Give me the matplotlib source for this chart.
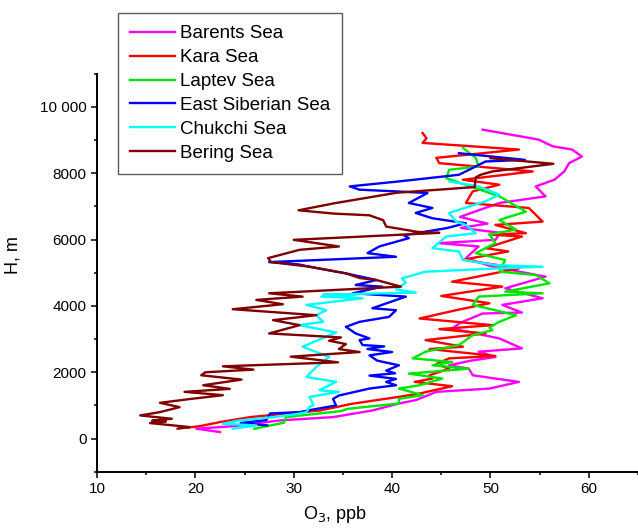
import matplotlib
matplotlib.use("Agg")
import matplotlib.pyplot as plt
from matplotlib.ticker import MultipleLocator, FuncFormatter

plt.rcParams['font.family'] = ['Liberation Sans', 'DejaVu Sans']

# ozone (ppb) vs height (m)
barents_x = [22.5, 20.1, 24.0, 28.6, 34.0, 38.0, 40.7, 42.4, 44.5, 49.9, 52.9, 48.2, 47.8, 45.8, 48.0, 50.5,
             48.8, 53.2, 50.9, 46.1, 47.0, 49.2, 53.2, 51.2, 55.3, 51.5, 55.6, 53.5, 50.0, 47.5, 48.8, 44.8,
             50.5, 51.0, 47.0, 49.7, 46.9, 50.9, 55.6, 54.6, 56.5, 57.5, 58.0, 59.3, 58.3, 56.3, 54.9, 49.2]
barents_y = [200, 300, 380, 550, 650, 850, 1060, 1160, 1410, 1510, 1710, 1910, 2110, 2210, 2350, 2460,
             2620, 2720, 3020, 3320, 3500, 3770, 3800, 4030, 4230, 4530, 4880, 5000, 5200, 5440, 5790, 5890,
             5990, 6200, 6350, 6480, 6680, 7100, 7300, 7600, 7800, 8050, 8300, 8500, 8710, 8810, 9010, 9310]

kara_x = [19.2, 20.5, 22.5, 25.6, 30.0, 32.7, 35.9, 40.7, 42.8, 46.1, 42.3, 44.1, 43.8, 45.8, 44.5, 45.8,
          50.5, 43.8, 47.2, 43.4, 49.5, 44.8, 50.2, 42.8, 46.5, 49.9, 45.0, 51.2, 46.1, 52.9, 47.2, 51.8,
          49.5, 53.2, 49.9, 53.6, 50.5, 55.3, 53.9, 47.5, 48.2, 50.9, 47.2, 54.3, 44.8, 44.5, 52.9, 43.1,
          43.5, 43.1]
kara_y = [330, 380, 500, 650, 780, 850, 1050, 1260, 1360, 1580, 1710, 1810, 1910, 2110, 2250, 2420,
          2490, 2700, 2770, 2970, 3170, 3300, 3420, 3620, 3870, 4080, 4300, 4580, 4730, 5130, 5390, 5640,
          5740, 6090, 6150, 6190, 6440, 6540, 6950, 7100, 7450, 7650, 7800, 8050, 8300, 8460, 8710, 8910,
          9050, 9210]

laptev_x = [26.0, 29.0, 29.2, 34.8, 35.5, 40.7, 40.7, 43.1, 40.7, 42.8, 45.1, 41.7, 45.8, 47.8, 44.1, 46.1,
            42.1, 43.4, 46.8, 48.2, 50.2, 49.9, 50.9, 52.6, 48.2, 48.8, 55.3, 51.5, 56.0, 54.6, 50.9, 51.5,
            48.5, 50.5, 49.9, 52.6, 50.9, 53.6, 50.9, 45.5, 45.8, 48.8, 48.5, 47.2]
laptev_y = [300, 480, 650, 830, 900, 1060, 1200, 1310, 1510, 1610, 1810, 1960, 2060, 2110, 2210, 2310,
            2420, 2620, 2820, 3120, 3270, 3350, 3520, 3720, 4030, 4280, 4380, 4430, 4680, 4930, 5030, 5380,
            5590, 5890, 6150, 6300, 6590, 6840, 7300, 7850, 8100, 8200, 8460, 8760]

east_x = [27.3, 24.6, 27.2, 27.6, 30.6, 32.0, 34.3, 34.0, 34.6, 37.7, 40.4, 39.4, 40.4, 37.7, 40.3, 39.4,
          40.7, 38.5, 37.7, 40.0, 37.5, 39.2, 37.0, 36.7, 37.7, 36.3, 35.3, 36.7, 39.7, 40.4, 38.0, 41.4,
          36.0, 39.0, 36.3, 38.4, 35.3, 31.6, 30.5, 27.5, 40.4, 37.5, 38.7, 41.7, 41.2, 45.5, 47.5, 44.1,
          42.4, 44.1, 41.7, 43.6, 40.4, 36.7, 35.7, 40.7, 46.8, 48.5, 49.5, 53.5, 46.8]
east_y = [400, 470, 560, 760, 800, 880, 1000, 1200, 1300, 1510, 1610, 1710, 1800, 1900, 1970, 2050,
          2210, 2350, 2510, 2610, 2700, 2780, 2820, 2970, 3020, 3170, 3370, 3520, 3670, 3870, 3930, 4280,
          4380, 4580, 4630, 4780, 4980, 5180, 5250, 5320, 5480, 5590, 5790, 6040, 6130, 6340, 6490, 6640,
          6800, 6950, 7100, 7400, 7450, 7500, 7600, 7750, 7950, 8200, 8350, 8400, 8600]

chukchi_x = [23.8, 26.2, 22.8, 24.5, 28.0, 30.5, 31.3, 31.6, 32.0, 31.6, 34.6, 32.6, 34.3, 31.3, 32.3, 33.6,
             30.9, 34.3, 30.6, 33.0, 32.3, 33.3, 31.3, 37.0, 32.8, 36.3, 33.0, 42.4, 40.4, 41.4, 41.0, 43.4,
             50.0, 55.3, 50.5, 47.2, 46.8, 44.1, 45.5, 48.5, 47.5, 46.5, 45.8, 49.5, 50.9, 48.8, 45.8]
chukchi_y = [300, 400, 450, 550, 650, 750, 800, 955, 1005, 1260, 1410, 1460, 1710, 1860, 2160, 2460,
             2770, 3200, 3420, 3520, 3720, 3870, 4030, 4230, 4280, 4330, 4340, 4400, 4500, 4700, 4830, 5030,
             5120, 5180, 5230, 5390, 5640, 5740, 6090, 6190, 6440, 6540, 6800, 7150, 7350, 7600, 7750]

bering_x = [18.2, 19.4, 15.4, 17.0, 15.6, 17.6, 14.4, 16.4, 18.4, 16.4, 19.6, 22.8, 18.9, 23.5, 20.8, 24.7,
            20.6, 21.0, 25.9, 22.8, 34.5, 29.7, 36.7, 34.6, 35.3, 33.6, 34.8, 27.5, 30.6, 27.9, 32.3, 23.8,
            28.9, 26.2, 30.9, 27.5, 40.9, 38.4, 36.7, 35.3, 31.6, 27.7, 27.4, 30.6, 34.6, 30.0, 44.8, 42.6,
            39.4, 39.1, 37.7, 34.1, 30.5, 34.1, 40.5, 48.4, 48.5, 49.0, 50.2, 56.4, 50.0]
bering_y = [300, 350, 470, 520, 540, 600, 700, 800, 950, 1080, 1200, 1310, 1410, 1500, 1610, 1780,
            1910, 2000, 2080, 2180, 2300, 2470, 2610, 2700, 2850, 2950, 3050, 3170, 3420, 3570, 3720, 3900,
            4050, 4180, 4280, 4380, 4580, 4780, 4840, 4980, 5180, 5320, 5440, 5690, 5790, 5990, 6200, 6230,
            6390, 6580, 6730, 6780, 6880, 7090, 7410, 7580, 7870, 7950, 8050, 8280, 8450]

names = ["Barents Sea", "Kara Sea", "Laptev Sea", "East Siberian Sea", "Chukchi Sea", "Bering Sea"]
colors = ["#ff00ff", "#ff0000", "#00e600", "#0000ff", "#00ffff", "#800000"]
xs = [barents_x, kara_x, laptev_x, east_x, chukchi_x, bering_x]
ys = [barents_y, kara_y, laptev_y, east_y, chukchi_y, bering_y]

fig = plt.figure(figsize=(6.38, 5.29), dpi=100)
ax = fig.add_axes([0.152, 0.108, 0.848, 0.753])

lines = []
for x, y, c, n in zip(xs, ys, colors, names):
    ln, = ax.plot(x, y, color=c, lw=1.7, label=n)
    lines.append(ln)

ax.set_xlim(10, 65)
ax.set_ylim(-1000, 11000)
ax.xaxis.set_major_locator(MultipleLocator(10))
ax.xaxis.set_minor_locator(MultipleLocator(5))
ax.yaxis.set_major_locator(MultipleLocator(2000))
ax.yaxis.set_minor_locator(MultipleLocator(1000))
ax.yaxis.set_major_formatter(FuncFormatter(
    lambda v, p: "10 000" if v >= 10000 else "%d" % v))

ax.spines['top'].set_visible(False)
ax.spines['right'].set_visible(False)
ax.spines['left'].set_linewidth(1.4)
ax.spines['bottom'].set_linewidth(1.4)
ax.tick_params(which='major', direction='out', length=4, width=1.1, labelsize=11)
ax.tick_params(which='minor', direction='out', length=2.5, width=1.1)

ax.set_xlabel("O$_3$, ppb", fontsize=13)
ax.set_ylabel("H, m", fontsize=13)
ax.xaxis.set_label_coords(0.44, -0.08)
ax.yaxis.set_label_coords(-0.14, 0.544)

leg = fig.legend(handles=lines, loc='upper left', bbox_to_anchor=(118 / 638, 1 - 13 / 529),
                 fontsize=13.5, frameon=True, fancybox=False, borderpad=0.65, labelspacing=0.36,
                 handlelength=2.4, handletextpad=0.25, borderaxespad=0)
leg.get_frame().set_edgecolor('#333333')
leg.get_frame().set_linewidth(1.0)

fig.savefig("out.png", dpi=100)
